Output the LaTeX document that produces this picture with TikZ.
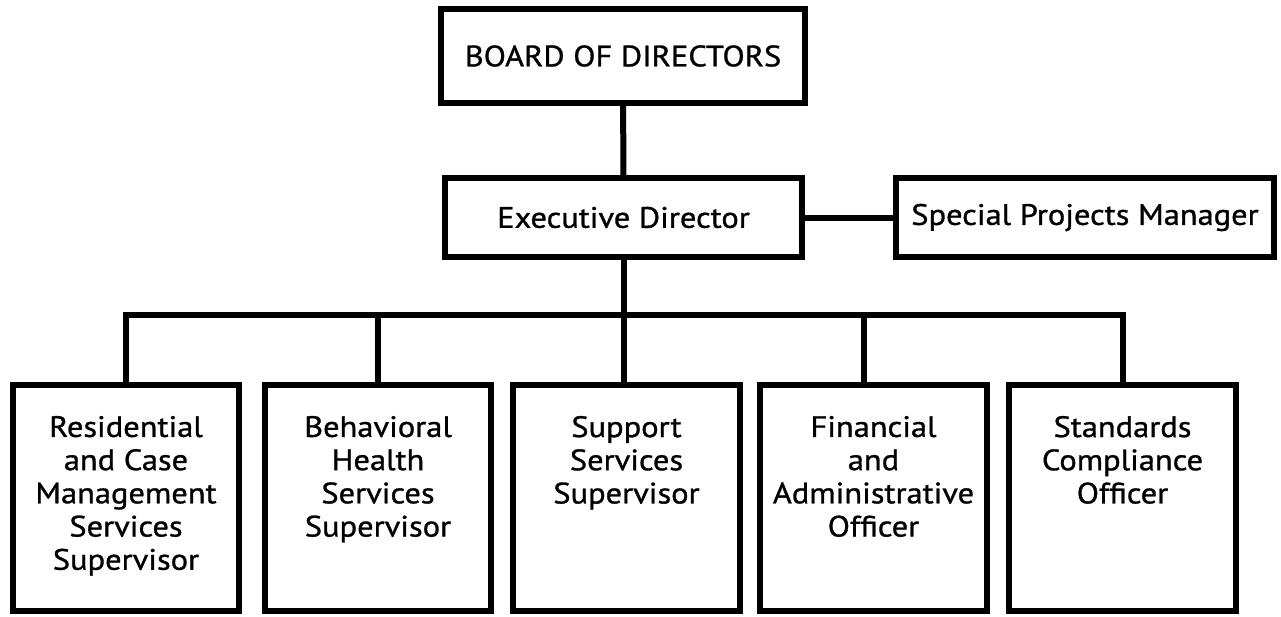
\documentclass[tikz,border=0pt]{standalone}
\usepackage{fontspec}
\newfontfamily\chartfont{PT Sans}[FakeStretch=1.1,FakeBold=1]
\newcommand{\unitlabel}[1]{\parbox[t][4.52cm][t]{4.4cm}{\centering\vspace*{0.62cm}#1}}

\begin{document}
\begin{tikzpicture}[x=0.02cm,y=-0.02cm,
  box/.style={draw=black,line width=0.12cm,inner sep=0pt,align=center,
    font=\chartfont\fontsize{16.8}{18.9}\selectfont},
  unit/.style={box,minimum width=4.54cm,minimum height=4.52cm},
  link/.style={line width=0.12cm}]
\useasboundingbox (0,0) rectangle (1281,616);
% top of the chart
\node (board) [box,minimum width=7.28cm,minimum height=1.88cm] at (623,56) {BOARD OF DIRECTORS};
\node (exec) [box,minimum width=7.14cm,minimum height=1.58cm] at (623.5,217.5) {Executive Director};
\node (special) [box,minimum width=7.56cm,minimum height=1.58cm] at (1085,217.5) {Special Projects Manager};
%
\node (res) [unit] at (126,498) {\unitlabel{Residential\\and Case\\Management\\Services\\Supervisor}};
\node (beh) [unit] at (378,498) {\unitlabel{Behavioral\\Health\\Services\\Supervisor}};
\node (sup) [unit] at (626.5,498) {\unitlabel{Support\\Services\\Supervisor}};
\node (fin) [unit] at (873.5,498) {\unitlabel{Financial\\and\\Administrative\\Officer}};
\node (std) [unit] at (1122.5,498) {\unitlabel{Standards\\Compliance\\Officer}};
\coordinate (bus) at (625,315);
%
\draw[link] (board) -- (exec);
\draw[link] (exec) -- (special);
\draw[link] (exec.south) -- (exec.south |- sup.north);
\draw[link] (res.north) |- (bus) -| (std.north);
\draw[link] (beh.north) -- (beh.north |- bus);
\draw[link] ([xshift=-0.19cm]fin.north) -- ([xshift=-0.19cm]fin.north |- bus);
\end{tikzpicture}
\end{document}
